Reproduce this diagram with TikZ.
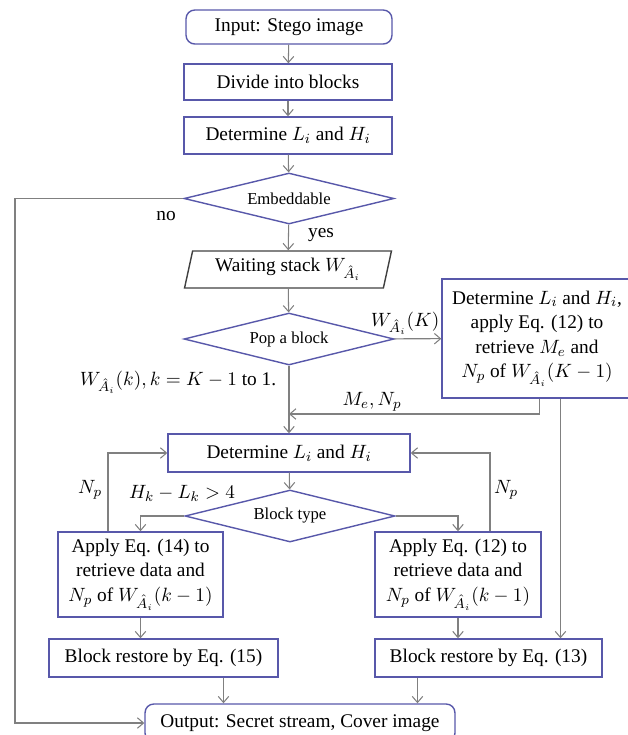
\documentclass[tikz,border=0pt]{standalone}
\usepackage{amsmath,amssymb}
\usepackage{fontspec}
\setmainfont{Liberation Serif}
\usetikzlibrary{shapes.geometric,arrows.meta}
\definecolor{boxblue}{RGB}{88,88,170}
\definecolor{flowgray}{RGB}{128,128,128}
\newcommand{\WA}{W_{\hat{A}_i}}

\begin{document}
\begin{tikzpicture}[x=0.02cm, y=-0.02cm,
  every node/.style={font=\fontsize{11}{14}\selectfont},
  proc/.style={draw=boxblue, line width=0.8pt, fill=white, align=center, inner sep=1pt},
  term/.style={proc, rounded corners=5pt},
  decide/.style={diamond, aspect=4.1, draw=boxblue, line width=0.8pt, inner sep=0pt, font=\fontsize{9.5}{11}\selectfont},
  stack/.style={trapezium, trapezium left angle=76, trapezium right angle=104, trapezium stretches=true, draw=black!75, line width=0.8pt, inner sep=1pt},
  flow/.style={draw=flowgray, line width=0.6pt, -{Straight Barb[length=3.5pt, width=6pt]}}]
  \useasboundingbox (0,0) rectangle (627,735);

  % Top chain
  \node[term, minimum width=4.12cm, minimum height=0.68cm] (input) at (289,27) {Input: Stego image};
  \node[proc, minimum width=4.16cm, minimum height=0.72cm] (divide) at (288,82) {Divide into blocks};
  \node[proc, minimum width=4.16cm, minimum height=0.74cm] (det1) at (288,135.5) {Determine $L_i$ and $H_i$};
  \node[decide, minimum width=4.2cm, minimum height=1.02cm] (emb) at (289,198.5) {Embeddable};
  \node[stack, minimum width=4.16cm, minimum height=0.74cm] (wait) at (288,269.5) {Waiting stack $\WA$};
  \node[decide, minimum width=4.2cm, minimum height=1.04cm] (pop) at (289,339) {Pop a block};

  % Right box
  \node[proc, minimum width=3.8cm, minimum height=2.38cm] (rbox) at (537,338.5)
    {Determine $L_i$ and $H_i$,\\ apply Eq. (12) to\\ retrieve $M_e$ and\\ $N_p$ of $\WA(K-1)$};

  % Middle part
  \node[proc, minimum width=4.84cm, minimum height=0.76cm] (det2) at (289,453) {Determine $L_i$ and $H_i$};
  \node[decide, minimum width=4.2cm, minimum height=1.04cm] (type) at (290,516) {Block type};
  \node[proc, minimum width=3.3cm, minimum height=1.7cm] (app14) at (140.5,574.5)
    {Apply Eq. (14) to\\ retrieve data and\\ $N_p$ of $\WA(k-1)$};
  \node[proc, minimum width=3.32cm, minimum height=1.7cm] (app12) at (458,574.5)
    {Apply Eq. (12) to\\ retrieve data and\\ $N_p$ of $\WA(k-1)$};
  \node[proc, minimum width=4.58cm, minimum height=0.76cm] (res15) at (163.5,658) {Block restore by Eq. (15)};
  \node[proc, minimum width=4.54cm, minimum height=0.76cm] (res13) at (488.5,658) {Block restore by Eq. (13)};
  \node[term, minimum width=6.2cm, minimum height=0.76cm] (out) at (300,723) {Output: Secret stream, Cover image};

  \coordinate (noturn) at (15,198.5);
  \coordinate (merge) at (289,414);

  % Connectors
  \draw[flow] (input) -- (divide);
  \draw[flow] (divide) -- (det1);
  \draw[flow] (det1) -- (emb);
  \draw[flow] (emb) -- (wait);
  \draw[flow] (wait) -- (pop);
  \draw[flow] (pop) -- (rbox);
  \draw[flow] (pop) -- (det2);
  \draw[flow] ([xshift=0.05cm]rbox.south) |- (merge);
  \draw[flow] ([xshift=0.47cm]rbox.south) -- ([xshift=0.47cm]rbox.south |- res13.north);
  \draw[flow] (emb.west) -- (noturn) |- (out.west);
  \draw[flow] (det2) -- (type);
  \draw[flow] (type.west) -| (app14.north);
  \draw[flow] (type.east) -| (app12.north);
  \draw[flow] ([xshift=-0.65cm]app14.north) |- (det2.west);
  \draw[flow] ([xshift=0.64cm]app12.north) |- (det2.east);
  \draw[flow] (app14.south) -- (app14.south |- res15.north);
  \draw[flow] (app12.south) -- (app12.south |- res13.north);
  \draw[flow] ([xshift=1.2cm]res15.south) -- ([xshift=1.2cm]res15.south |- out.north);
  \draw[flow] ([xshift=-1.42cm]res13.south) -- ([xshift=-1.42cm]res13.south |- out.north);

  % Labels
  \node (lno) at (166,216) {no};
  \node (lyes) at (321,235) {yes};
  \node (lpopk) at (405,323) {$\WA(K)$};
  \node (lpopr) at (178,382) {$\WA(k), k = K-1$ to 1.};
  \node (lmenp) at (372,402) {$M_e, N_p$};
  \node (lnpl) at (90,490) {$N_p$};
  \node (lhl) at (182,493) {$H_k - L_k > 4$};
  \node (lnpr) at (506,490) {$N_p$};
\end{tikzpicture}
\end{document}
